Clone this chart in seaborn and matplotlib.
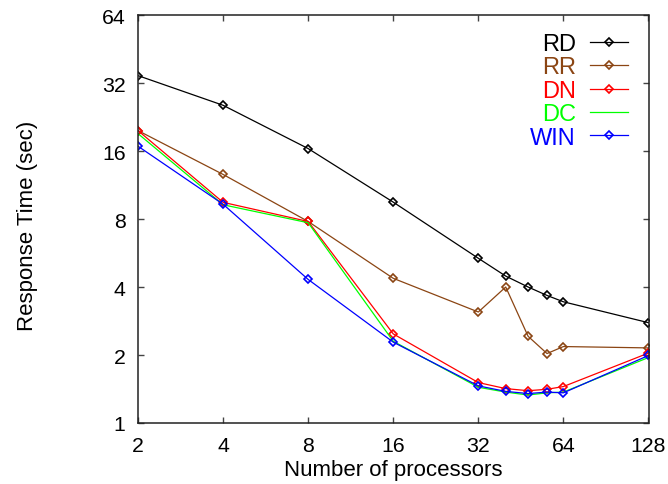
import matplotlib
matplotlib.use("Agg")
import matplotlib.pyplot as plt
import seaborn as sns
import pandas as pd
from matplotlib.ticker import FixedLocator, FixedFormatter, NullLocator

procs = [2, 4, 8, 16, 32, 40, 48, 56, 64, 128]
rd  = [34.5, 25.5, 16.4, 9.5, 5.36, 4.47, 4.0, 3.67, 3.44, 2.78]
rr  = [19.7, 12.6, 7.8, 4.37, 3.1, 4.0, 2.42, 2.03, 2.18, 2.15]
dn  = [19.7, 9.48, 7.8, 2.48, 1.51, 1.42, 1.39, 1.41, 1.45, 2.04]
dc  = [19.1, 9.25, 7.7, 2.30, 1.44, 1.37, 1.33, 1.36, 1.37, 1.95]
win = [16.8, 9.3, 4.32, 2.28, 1.46, 1.38, 1.35, 1.37, 1.36, 1.99]

series_names = ["RD", "RR", "DN", "DC", "WIN"]
series_vals = [rd, rr, dn, dc, win]
colors = ["#000000", "#8B4513", "#ff0000", "#00ff00", "#0000ff"]
markers = ["D", "D", "D", None, "D"]

xticks = [2, 4, 8, 16, 32, 64, 128]
yticks = [1, 2, 4, 8, 16, 32, 64]

plt.rcParams["font.family"] = ["Liberation Sans", "DejaVu Sans"]

fig = plt.figure(figsize=(6.68, 4.85), dpi=100)
ax = fig.add_axes([138/668, 1 - 424/485, (648.5 - 138)/668, (424 - 16)/485])

for name, vals, col, mk in zip(series_names, series_vals, colors, markers):
    df = pd.DataFrame({"x": procs, "y": vals})
    kw = dict(marker=mk, markersize=4.5, markerfacecolor="none",
              markeredgecolor=col, markeredgewidth=1.2) if mk else dict(marker=None)
    sns.lineplot(data=df, x="x", y="y", ax=ax, color=col, linewidth=0.9,
                 label=name, **kw)

ax.set_xscale("log", base=2)
ax.set_yscale("log", base=2)
ax.set_xlim(2, 128)
ax.set_ylim(1, 64)
ax.xaxis.set_major_locator(FixedLocator(xticks))
ax.xaxis.set_major_formatter(FixedFormatter([str(t) for t in xticks]))
ax.yaxis.set_major_locator(FixedLocator(yticks))
ax.yaxis.set_major_formatter(FixedFormatter([str(t) for t in yticks]))
ax.xaxis.set_minor_locator(NullLocator())
ax.yaxis.set_minor_locator(NullLocator())

ax.tick_params(direction="in", length=4, width=1, color="#444444",
               top=True, right=True, labelsize=15.3, pad=9)
ax.tick_params(axis="x", pad=9.5)
for s in ax.spines.values():
    s.set_linewidth(1.1)
    s.set_color("#222222")

ax.set_xlabel("Number of processors", fontsize=16, labelpad=3)
ax.set_ylabel("Response Time (sec)", fontsize=16)
ax.yaxis.set_label_coords(-0.196, 0.485)

leg = ax.legend(loc="upper right", bbox_to_anchor=(0.978, 0.979), frameon=False,
                markerfirst=False, fontsize=17, labelcolor="linecolor",
                handlelength=1.6, handletextpad=0.6, labelspacing=0.06,
                borderaxespad=0.0)

fig.savefig("out.png", dpi=100)
